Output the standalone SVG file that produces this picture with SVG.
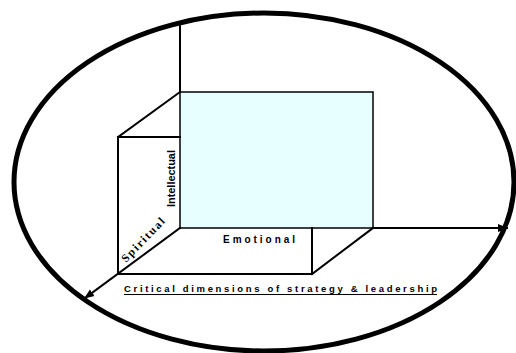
<svg xmlns="http://www.w3.org/2000/svg" width="516" height="353" viewBox="0 0 516 353">
<style>
.ln{stroke:#000;stroke-width:2;fill:none;stroke-linecap:square}
.sans{font-family:"Liberation Sans",Arial,sans-serif;font-weight:bold;fill:#000}
.serif{font-family:"Liberation Serif","Times New Roman",serif;font-weight:bold;fill:#000}
</style>
<defs>
<marker id="ah" viewBox="0 0 10 10" refX="9" refY="5" markerWidth="5" markerHeight="5" orient="auto" markerUnits="strokeWidth">
<path d="M0,1 L10,5 L0,9 z" fill="#000"/>
</marker>
</defs>
<rect width="516" height="353" fill="#fff"/>
<g id="box">
<rect x="180" y="92" width="193" height="136" fill="#E8FFFF" stroke="#000" stroke-width="1.5"/>
<path class="ln" d="M118,137 L180,92 M118,137 L180,137 M118,137 L118,274 L312,274 L312,228 M312,274 L373,228"/>
</g>
<g id="connectors">
<line class="ln" x1="180" y1="92" x2="180" y2="24"/>
<line class="ln" x1="373" y1="228" x2="507" y2="228" marker-end="url(#ah)"/>
<line class="ln" x1="180" y1="228" x2="85" y2="298" marker-end="url(#ah)"/>
</g>
<g id="ellipse">
<ellipse cx="264" cy="182" rx="250" ry="169" fill="none" stroke="#000" stroke-width="5"/>
</g>
<g id="labels">
<text class="sans" font-size="11" transform="translate(175,207) rotate(-90)" textLength="57" lengthAdjust="spacing">Intellectual</text>
<text class="sans" font-size="10" x="223" y="243" textLength="72" lengthAdjust="spacing">Emotional</text>
<text class="serif" font-size="11.5" transform="translate(126,263) rotate(-46)" textLength="57" lengthAdjust="spacing">Spiritual</text>
<text class="sans" font-size="9.5" x="124" y="292" textLength="313" lengthAdjust="spacing">Critical dimensions of strategy &amp; leadership</text>
<line x1="124" y1="294.5" x2="437" y2="294.5" stroke="#000" stroke-width="1"/>
</g>
</svg>
